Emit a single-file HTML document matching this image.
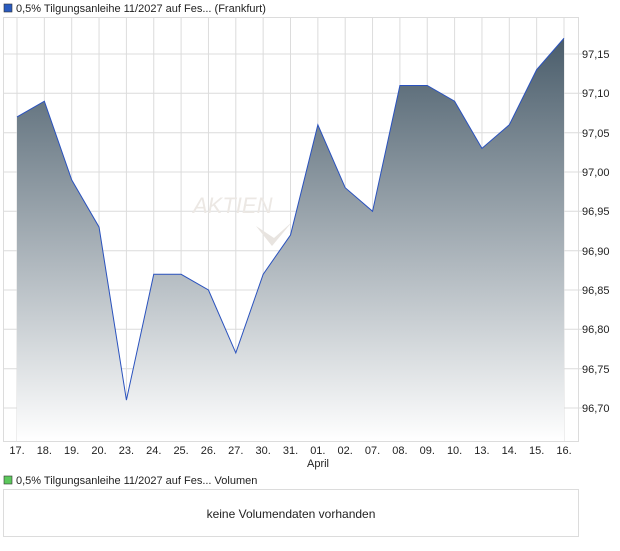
<!DOCTYPE html>
<html><head><meta charset="utf-8"><style>
body{margin:0;background:#fff;font-family:"Liberation Sans",sans-serif;}
</style></head><body>
<svg width="620" height="546" xmlns="http://www.w3.org/2000/svg" font-family="Liberation Sans, sans-serif" font-size="11" fill="#222">
<defs><linearGradient id="g" x1="0" y1="38" x2="0" y2="441" gradientUnits="userSpaceOnUse">
<stop offset="0" stop-color="#4a5d6b"/><stop offset="1" stop-color="#ffffff"/></linearGradient></defs>
<rect x="4" y="4" width="8" height="8" fill="#2a5bbf" stroke="#333" stroke-width="0.6"/>
<text x="16" y="12">0,5% Tilgungsanleihe 11/2027 auf Fes... (Frankfurt)</text>
<g stroke="#dcdcdc" stroke-width="1">
<line x1="17" y1="17" x2="17" y2="441"/><line x1="44.35" y1="17" x2="44.35" y2="441"/><line x1="71.7" y1="17" x2="71.7" y2="441"/><line x1="99.05" y1="17" x2="99.05" y2="441"/><line x1="126.4" y1="17" x2="126.4" y2="441"/><line x1="153.75" y1="17" x2="153.75" y2="441"/><line x1="181.1" y1="17" x2="181.1" y2="441"/><line x1="208.45" y1="17" x2="208.45" y2="441"/><line x1="235.8" y1="17" x2="235.8" y2="441"/><line x1="263.15" y1="17" x2="263.15" y2="441"/><line x1="290.5" y1="17" x2="290.5" y2="441"/><line x1="317.85" y1="17" x2="317.85" y2="441"/><line x1="345.2" y1="17" x2="345.2" y2="441"/><line x1="372.55" y1="17" x2="372.55" y2="441"/><line x1="399.9" y1="17" x2="399.9" y2="441"/><line x1="427.25" y1="17" x2="427.25" y2="441"/><line x1="454.6" y1="17" x2="454.6" y2="441"/><line x1="481.95" y1="17" x2="481.95" y2="441"/><line x1="509.3" y1="17" x2="509.3" y2="441"/><line x1="536.65" y1="17" x2="536.65" y2="441"/><line x1="564" y1="17" x2="564" y2="441"/>
<line x1="3" y1="54" x2="584" y2="54"/><line x1="3" y1="93.3" x2="584" y2="93.3"/><line x1="3" y1="132.7" x2="584" y2="132.7"/><line x1="3" y1="172" x2="584" y2="172"/><line x1="3" y1="211.3" x2="584" y2="211.3"/><line x1="3" y1="250.7" x2="584" y2="250.7"/><line x1="3" y1="290" x2="584" y2="290"/><line x1="3" y1="329.3" x2="584" y2="329.3"/><line x1="3" y1="368.7" x2="584" y2="368.7"/><line x1="3" y1="408" x2="584" y2="408"/>
</g>
<text x="193" y="213" font-size="22" font-style="italic" fill="#ece8e4">AKTIEN</text>
<path d="M256 226 L272 246 L292 222 L274 238 Z" fill="#e8e4e0"/>
<path d="M17,116.9 L44.35,101.2 L71.7,179.9 L99.05,227.1 L126.4,400.1 L153.75,274.3 L181.1,274.3 L208.45,290 L235.8,352.9 L263.15,274.3 L290.5,235 L317.85,124.8 L345.2,187.7 L372.55,211.3 L399.9,85.5 L427.25,85.5 L454.6,101.2 L481.95,148.4 L509.3,124.8 L536.65,69.7 L564,38.2 L564,441 L17,441 Z" fill="url(#g)"/>
<polyline points="17,116.9 44.35,101.2 71.7,179.9 99.05,227.1 126.4,400.1 153.75,274.3 181.1,274.3 208.45,290 235.8,352.9 263.15,274.3 290.5,235 317.85,124.8 345.2,187.7 372.55,211.3 399.9,85.5 427.25,85.5 454.6,101.2 481.95,148.4 509.3,124.8 536.65,69.7 564,38.2" fill="none" stroke="#2a52be" stroke-width="1"/>
<rect x="3.5" y="17.5" width="575" height="424" fill="none" stroke="#dcdcdc"/>
<g font-size="11">
<text x="582" y="58">97,15</text><text x="582" y="97">97,10</text><text x="582" y="137">97,05</text><text x="582" y="176">97,00</text><text x="582" y="215">96,95</text><text x="582" y="255">96,90</text><text x="582" y="294">96,85</text><text x="582" y="333">96,80</text><text x="582" y="373">96,75</text><text x="582" y="412">96,70</text>
</g>
<g font-size="11" text-anchor="middle">
<text x="17" y="454">17.</text><text x="44.35" y="454">18.</text><text x="71.7" y="454">19.</text><text x="99.05" y="454">20.</text><text x="126.4" y="454">23.</text><text x="153.75" y="454">24.</text><text x="181.1" y="454">25.</text><text x="208.45" y="454">26.</text><text x="235.8" y="454">27.</text><text x="263.15" y="454">30.</text><text x="290.5" y="454">31.</text><text x="317.85" y="454">01.</text><text x="345.2" y="454">02.</text><text x="372.55" y="454">07.</text><text x="399.9" y="454">08.</text><text x="427.25" y="454">09.</text><text x="454.6" y="454">10.</text><text x="481.95" y="454">13.</text><text x="509.3" y="454">14.</text><text x="536.65" y="454">15.</text><text x="564" y="454">16.</text>
<text x="318" y="467">April</text>
</g>
<rect x="4" y="476" width="8" height="8" fill="#5cc85c" stroke="#333" stroke-width="0.6"/>
<text x="16" y="484">0,5% Tilgungsanleihe 11/2027 auf Fes... Volumen</text>
<rect x="3.5" y="489.5" width="575" height="47" fill="none" stroke="#dcdcdc"/>
<text x="291" y="518" text-anchor="middle" font-size="12">keine Volumendaten vorhanden</text>
</svg>
</body></html>
